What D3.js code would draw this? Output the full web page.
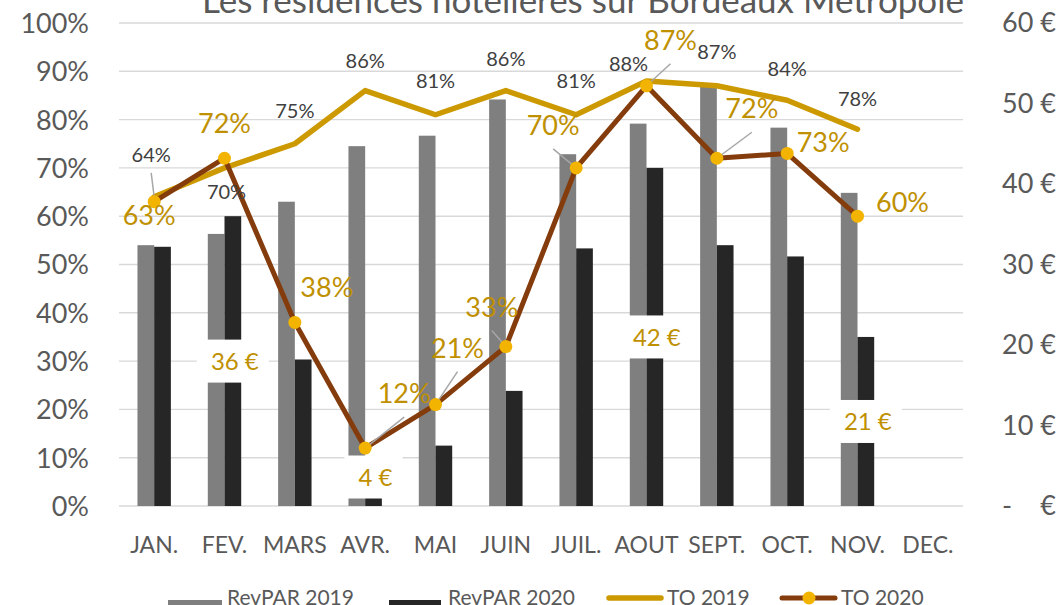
<!DOCTYPE html>
<html>
<head>
<meta charset="utf-8">
<script src="https://cdn.jsdelivr.net/npm/d3@7"></script>
<style>
  body { margin: 0; background: #fff; }
  svg text { font-family: Lato, "Open Sans", sans-serif; }
</style>
</head>
<body>
<div id="chart"></div>
<script>
// months and values
const months = ["JAN.", "FEV.", "MARS", "AVR.", "MAI", "JUIN", "JUIL.", "AOUT", "SEPT.", "OCT.", "NOV.", "DEC."];
const revpar2019 = [32.4, 33.8, 37.8, 44.7, 46.0, 50.5, 43.7, 47.5, 52.3, 47.0, 38.9, null];
const revpar2020 = [32.2, 36, 18.2, 4, 7.5, 14.3, 32.0, 42, 32.4, 31.0, 21, null];
const to2019 = [0.64, 0.70, 0.75, 0.86, 0.81, 0.86, 0.81, 0.88, 0.87, 0.84, 0.78, null];
const to2020 = [0.63, 0.72, 0.38, 0.12, 0.21, 0.33, 0.70, 0.87, 0.72, 0.73, 0.60, null];
const revpar2020Labelled = ["FEV.", "AVR.", "AOUT", "NOV."];
const pctTicks = [0, 0.1, 0.2, 0.3, 0.4, 0.5, 0.6, 0.7, 0.8, 0.9, 1];
const euroTicks = [0, 10, 20, 30, 40, 50, 60];

// label placement (dx, dy from the point, optional leader)
const to2019Offsets = [[-3, -35, true], [2, 31], [0, -26], [0, -23], [0, -27], [0, -25], [0, -27], [-18, -10], [0, -27], [0, -24], [0, -23]];
const to2020Offsets = [[-5, 23], [0, -25], [32, -25], [39, -45, true], [22, -47, true], [-14, -30, true], [-23, -33, true], [24, -36, true], [35, -40, true], [36, -1], [45, -4]];

var width = 1061, height = 605;
var margin = { left: 119, right: 98, top: 23, bottom: 99 };

var svg = d3.select("#chart").append("svg")
  .attr("width", width)
  .attr("height", height);

var x = d3.scaleBand().domain(months).range([margin.left, width - margin.right]).padding(0);
var yPct = d3.scaleLinear().domain([0, 1]).range([height - margin.bottom, margin.top]);
var yEur = d3.scaleLinear().domain([0, 60]).range([height - margin.bottom, margin.top]);
var barW = 16.7;
var cx = (m) => x(m) + x.bandwidth() / 2;

// title (cut at the top like the original)
svg.append("text")
  .attr("x", 583).attr("y", 13)
  .attr("text-anchor", "middle")
  .attr("font-size", 35)
  .attr("fill", "#595959")
  .text("Les résidences hôtelières sur Bordeaux Métropole");

// gridlines
svg.append("g").selectAll("line").data(pctTicks).enter().append("line")
  .attr("x1", margin.left).attr("x2", width - margin.right)
  .attr("y1", (d) => yPct(d)).attr("y2", (d) => yPct(d))
  .attr("stroke", "#d9d9d9").attr("stroke-width", 1.4);

// left axis
var left = svg.append("g")
  .attr("transform", "translate(" + margin.left + ",0)")
  .call(d3.axisLeft(yPct).tickValues(pctTicks).tickFormat(d3.format(".0%")).tickSize(0).tickPadding(30));
left.select(".domain").remove();
left.selectAll("text").attr("font-size", 27).attr("fill", "#595959").attr("dy", "0.35em");

// right axis
var right = svg.append("g")
  .attr("transform", "translate(1056,0)")
  .call(d3.axisLeft(yEur).tickValues(euroTicks).tickFormat((d) => (d === 0 ? "" : d + " €")).tickSize(0).tickPadding(0));
right.select(".domain").remove();
right.selectAll("text").attr("font-size", 27).attr("fill", "#595959").attr("dy", "0.33em");
svg.append("text").attr("x", 1002).attr("y", yEur(0) + 9).attr("font-size", 27).attr("fill", "#595959").text("-");
svg.append("text").attr("x", 1056).attr("y", yEur(0) + 9).attr("text-anchor", "end").attr("font-size", 27).attr("fill", "#595959").text("€");

// category labels
svg.append("g").selectAll("text").data(months).enter().append("text")
  .attr("x", (d) => cx(d)).attr("y", 553)
  .attr("text-anchor", "middle")
  .attr("font-size", 23)
  .attr("fill", "#595959")
  .text((d) => d);

// bars
var bars = svg.append("g");
bars.selectAll(".b19").data(months.filter((m, i) => revpar2019[i] != null)).enter().append("rect")
  .attr("x", (d) => cx(d) - barW)
  .attr("width", barW)
  .attr("y", (d) => yEur(revpar2019[months.indexOf(d)]))
  .attr("height", (d) => yEur(0) - yEur(revpar2019[months.indexOf(d)]))
  .attr("fill", "#7f7f7f");
bars.selectAll(".b20").data(months.filter((m, i) => revpar2020[i] != null)).enter().append("rect")
  .attr("x", (d) => cx(d))
  .attr("width", barW)
  .attr("y", (d) => yEur(revpar2020[months.indexOf(d)]))
  .attr("height", (d) => yEur(0) - yEur(revpar2020[months.indexOf(d)]))
  .attr("fill", "#262626");

// RevPAR 2020 data labels, white box in the middle of the bar
revpar2020Labelled.forEach(function (m) {
  var v = revpar2020[months.indexOf(m)];
  var cy = Math.min(yEur(v / 2), yEur(0) - 29);
  var bx = cx(m) + barW / 2;
  var g = svg.append("g");
  var t = g.append("text")
    .attr("x", bx + 2).attr("y", cy + 9)
    .attr("text-anchor", "middle")
    .attr("font-size", 24)
    .attr("fill", "#bf9000")
    .text(v + " €");
  var w = t.node().getBBox().width + 24;
  g.insert("rect", "text")
    .attr("x", bx - w / 2).attr("y", cy - 21.5)
    .attr("width", w).attr("height", 43)
    .attr("fill", "#fff");
});

// lines
var pts19 = months.map((m, i) => [cx(m), to2019[i]]).filter((p) => p[1] != null);
var pts20 = months.map((m, i) => [cx(m), to2020[i]]).filter((p) => p[1] != null);
var line = d3.line().x((d) => d[0]).y((d) => yPct(d[1]));

svg.append("path").datum(pts19).attr("d", line)
  .attr("fill", "none").attr("stroke", "#cc9900").attr("stroke-width", 5.5)
  .attr("stroke-linejoin", "round").attr("stroke-linecap", "round");
svg.append("path").datum(pts20).attr("d", line)
  .attr("fill", "none").attr("stroke", "#843c0c").attr("stroke-width", 5)
  .attr("stroke-linejoin", "round").attr("stroke-linecap", "round");

// leader lines
var leaders = svg.append("g").attr("stroke", "#a6a6a6").attr("stroke-width", 1.5);
pts19.forEach(function (p, i) {
  var o = to2019Offsets[i];
  if (o[2]) leaders.append("line").attr("x1", p[0] + o[0]).attr("y1", yPct(p[1]) + o[1] + 11).attr("x2", p[0]).attr("y2", yPct(p[1]));
});
pts20.forEach(function (p, i) {
  var o = to2020Offsets[i];
  if (o[2]) leaders.append("line").attr("x1", p[0] + o[0]).attr("y1", yPct(p[1]) + o[1] + 14).attr("x2", p[0]).attr("y2", yPct(p[1]));
});

// markers
svg.append("g").selectAll("circle").data(pts20).enter().append("circle")
  .attr("cx", (d) => d[0]).attr("cy", (d) => yPct(d[1]))
  .attr("r", 6.5).attr("fill", "#f2b400");

// TO labels
svg.append("g").selectAll("text").data(pts19).enter().append("text")
  .attr("x", (d, i) => d[0] + to2019Offsets[i][0])
  .attr("y", (d, i) => yPct(d[1]) + to2019Offsets[i][1])
  .attr("text-anchor", "middle").attr("font-size", 20).attr("fill", "#404040")
  .text((d) => d3.format(".0%")(d[1]));
svg.append("g").selectAll("text").data(pts20).enter().append("text")
  .attr("x", (d, i) => d[0] + to2020Offsets[i][0])
  .attr("y", (d, i) => yPct(d[1]) + to2020Offsets[i][1])
  .attr("text-anchor", "middle").attr("font-size", 27).attr("fill", "#bf9000")
  .text((d) => d3.format(".0%")(d[1]));

// legend
var lg = svg.append("g").attr("font-size", 21).attr("fill", "#595959");
lg.append("rect").attr("x", 168).attr("y", 600).attr("width", 54).attr("height", 12).attr("fill", "#7f7f7f");
lg.append("text").attr("x", 227).attr("y", 605).text("RevPAR 2019");
lg.append("rect").attr("x", 389).attr("y", 600).attr("width", 52).attr("height", 12).attr("fill", "#262626");
lg.append("text").attr("x", 448).attr("y", 605).text("RevPAR 2020");
lg.append("line").attr("x1", 609).attr("x2", 661).attr("y1", 598).attr("y2", 598)
  .attr("stroke", "#cc9900").attr("stroke-width", 5.5).attr("stroke-linecap", "round");
lg.append("text").attr("x", 667).attr("y", 605).text("TO 2019");
lg.append("line").attr("x1", 782).attr("x2", 835).attr("y1", 598).attr("y2", 598)
  .attr("stroke", "#843c0c").attr("stroke-width", 5).attr("stroke-linecap", "round");
lg.append("circle").attr("cx", 809).attr("cy", 598).attr("r", 6.5).attr("fill", "#f2b400");
lg.append("text").attr("x", 841).attr("y", 605).text("TO 2020");
</script>
</body>
</html>
